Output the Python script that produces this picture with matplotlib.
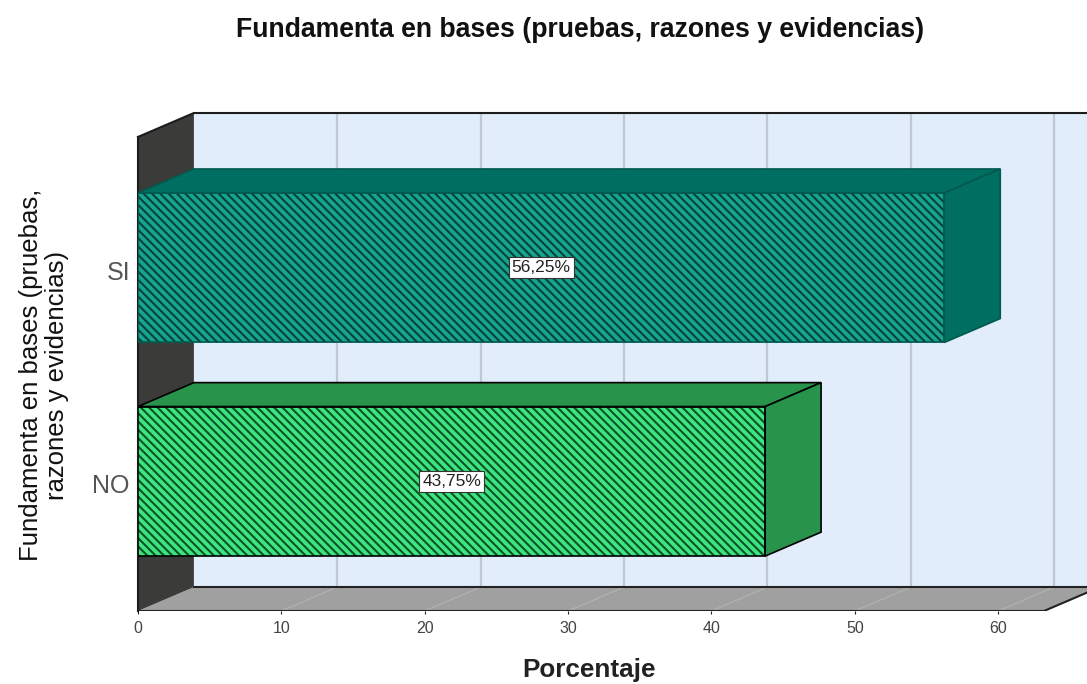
import matplotlib
matplotlib.use('Agg')
import matplotlib.pyplot as plt
from matplotlib.patches import Polygon

plt.rcParams['font.family'] = ['Liberation Sans', 'DejaVu Sans']
plt.rcParams['hatch.linewidth'] = 1.5

# Data
categories = ['NO', 'SI']
values = [43.75, 56.25]
value_labels = ['43,75%', '56,25%']
x_ticks = [0, 10, 20, 30, 40, 50, 60]

# Colours
front_colors = ['#3ce57f', '#15a58d']
hatch_colors = ['#0b5129', '#06403c']
depth_colors = ['#27934b', '#006e60']
edge_colors = ['#000000', '#005a4e']

# 3D look: offset of the back plane, in data units
dx = 3.9
dy = 0.112
bar_h = 0.70
x_front = 63.2
x_max = 66.2
y_min = -0.607
y_max = 1.724

W, H = 1087, 684
fig = plt.figure(figsize=(W / 100, H / 100), dpi=100)
ax = fig.add_axes([138 / W, 1 - 611 / H, (W - 138) / W, (611 - 113) / H])
ax.set_xlim(0, x_max)
ax.set_ylim(y_min, y_max)

# Back wall
ax.add_patch(Polygon([(dx, y_min + dy), (x_max, y_min + dy), (x_max, y_max), (dx, y_max)],
                     facecolor='#e1edfb', edgecolor='none', zorder=1))
# Grid on the back wall and on the floor
for t in x_ticks[1:]:
    ax.plot([t + dx, t + dx], [y_min + dy, y_max], color='#c2c6ce', lw=1.6, zorder=2)
# Floor
ax.add_patch(Polygon([(0, y_min), (x_front, y_min), (x_front + dx, y_min + dy), (0 + dx, y_min + dy)],
                     facecolor='#a0a0a0', edgecolor='none', zorder=2))
for t in x_ticks[1:]:
    ax.plot([t, t + dx], [y_min, y_min + dy], color='#b0b0b0', lw=1, zorder=3)
ax.plot([dx, x_max], [y_min + dy, y_min + dy], color='#222222', lw=1.5, zorder=3)
ax.plot([0, x_front, x_front + dx], [y_min, y_min, y_min + dy], color='#222222', lw=1.5, zorder=3)
# Left wall
ax.add_patch(Polygon([(0, y_min), (dx, y_min + dy), (dx, y_max), (0, y_max - dy)],
                     facecolor='#3b3c39', edgecolor='none', zorder=3))
ax.plot([0, dx, x_max], [y_max - dy, y_max, y_max], color='#1c1c1c', lw=1.5, zorder=3, clip_on=False)
ax.plot([0, 0], [y_min, y_max - dy], color='#1c1c1c', lw=1.5, zorder=3, clip_on=False)

# Bars
for i, (cat, v) in enumerate(zip(categories, values)):
    lo, hi = i - bar_h / 2, i + bar_h / 2
    bars = ax.barh(i, v, height=bar_h, facecolor=front_colors[i], edgecolor=hatch_colors[i],
                   hatch='\\\\\\\\', linewidth=0, zorder=5)
    bars[0].set_snap(False)
    ax.add_patch(Polygon([(0, lo), (v, lo), (v, hi), (0, hi)], fill=False,
                         edgecolor=edge_colors[i], lw=1.2, zorder=6))
    ax.add_patch(Polygon([(0, hi), (v, hi), (v + dx, hi + dy), (dx, hi + dy)],
                         facecolor=depth_colors[i], edgecolor=edge_colors[i], lw=1.2, zorder=5))
    ax.add_patch(Polygon([(v, lo), (v + dx, lo + dy), (v + dx, hi + dy), (v, hi)],
                         facecolor=depth_colors[i], edgecolor=edge_colors[i], lw=1.2, zorder=5))
    ax.text(v / 2, i, value_labels[i], ha='center', va='center', fontsize=12.5, color='#222222', zorder=7,
            bbox=dict(boxstyle='square,pad=0.17', facecolor='white', edgecolor='#333333', lw=0.8))
    # category label, sits a little below the bar centre
    ax.annotate(cat, (0, i), xytext=(-8, -5), textcoords='offset pixels', ha='right', va='center',
                fontsize=18, color='#555555', annotation_clip=False)

for s in ax.spines.values():
    s.set_visible(False)
ax.set_xticks(x_ticks)
ax.set_yticks([])
ax.tick_params(axis='x', length=2, color='#222222', labelsize=11.5, labelcolor='#444444', pad=5)

fig.text(580.5 / W, 1 - 30 / H, 'Fundamenta en bases (pruebas, razones y evidencias)',
         ha='center', va='center', fontsize=19.2, fontweight='bold', color='#111111')
fig.text(589 / W, 1 - 670 / H, 'Porcentaje', ha='center', va='center', fontsize=18.8,
         fontweight='bold', color='#222222')
fig.text(44 / W, 1 - 375 / H, 'Fundamenta en bases (pruebas,\nrazones y evidencias)', ha='center',
         va='center', rotation=90, fontsize=18.5, color='#111111', linespacing=1.08)

fig.savefig('out.png', dpi=100)
